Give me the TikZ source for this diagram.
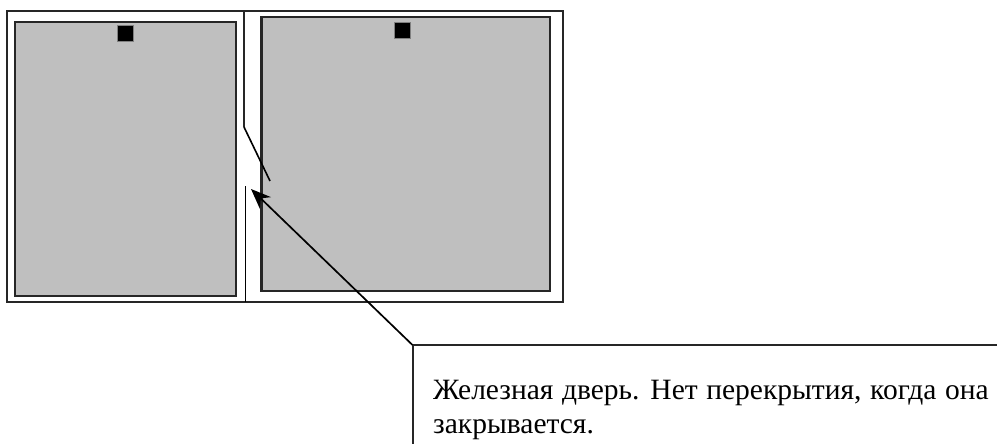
\documentclass[tikz,border=0pt]{standalone}
\usepackage{fontspec}
\setmainfont[WordSpace=1.16]{Liberation Serif}
\usetikzlibrary{calc, arrows.meta, positioning}
\tikzset{
    wallline/.style={line width=2pt, draw=black!85},
    roomfill/.style={line width=2.4pt, draw=black!85, fill=black!25},
    lampbox/.style={fill=black, draw=black!50, line width=0.4pt},
    leaderline/.style={line width=1.7pt, -{Stealth[length=20pt, width=16pt]}}
}
\begin{document}
\begin{tikzpicture}[x=1pt, y=-1pt]
    \useasboundingbox (0,0) rectangle (997,444);
    \coordinate (cWallTopPt) at (244,11);
    \coordinate (cHingePt) at (244,127);
    \coordinate (cDoorEndPt) at (270,181);
    \coordinate (cWallLowPt) at (245.5,186);
    \coordinate (cWallBotPt) at (245.5,302);
    \coordinate (cArrowPt) at (251,189);
    \coordinate (cCalloutPt) at (412.5,345);
    \draw [wallline] (7,11) rectangle (563,302);
    \draw [roomfill] (15,22) rectangle (236,296);
    \draw [roomfill] (261.5,17) rectangle (550,291);
    \foreach \x/\y in {125/33, 402/30}
    {
        \draw [lampbox] (\x-8,\y-8) rectangle (\x+8,\y+8);
    };
    \draw [wallline] (cWallTopPt) -- (cHingePt);
    \draw [line width=1.6pt] (cHingePt) -- (cDoorEndPt);
    \draw [line width=1.6pt] (cWallLowPt) -- (cWallBotPt);
    \draw [wallline] (997,345) -- (cCalloutPt) -- (412.5,444);
    \draw [leaderline] (cCalloutPt) -- (cArrowPt);
    \node [anchor=base west, inner sep=0pt, font=\fontsize{29.5pt}{34pt}\selectfont, align=left] (nNote) at (433,433)
        {Железная дверь. Нет перекрытия, когда она\\закрывается.};
\end{tikzpicture}
\end{document}
